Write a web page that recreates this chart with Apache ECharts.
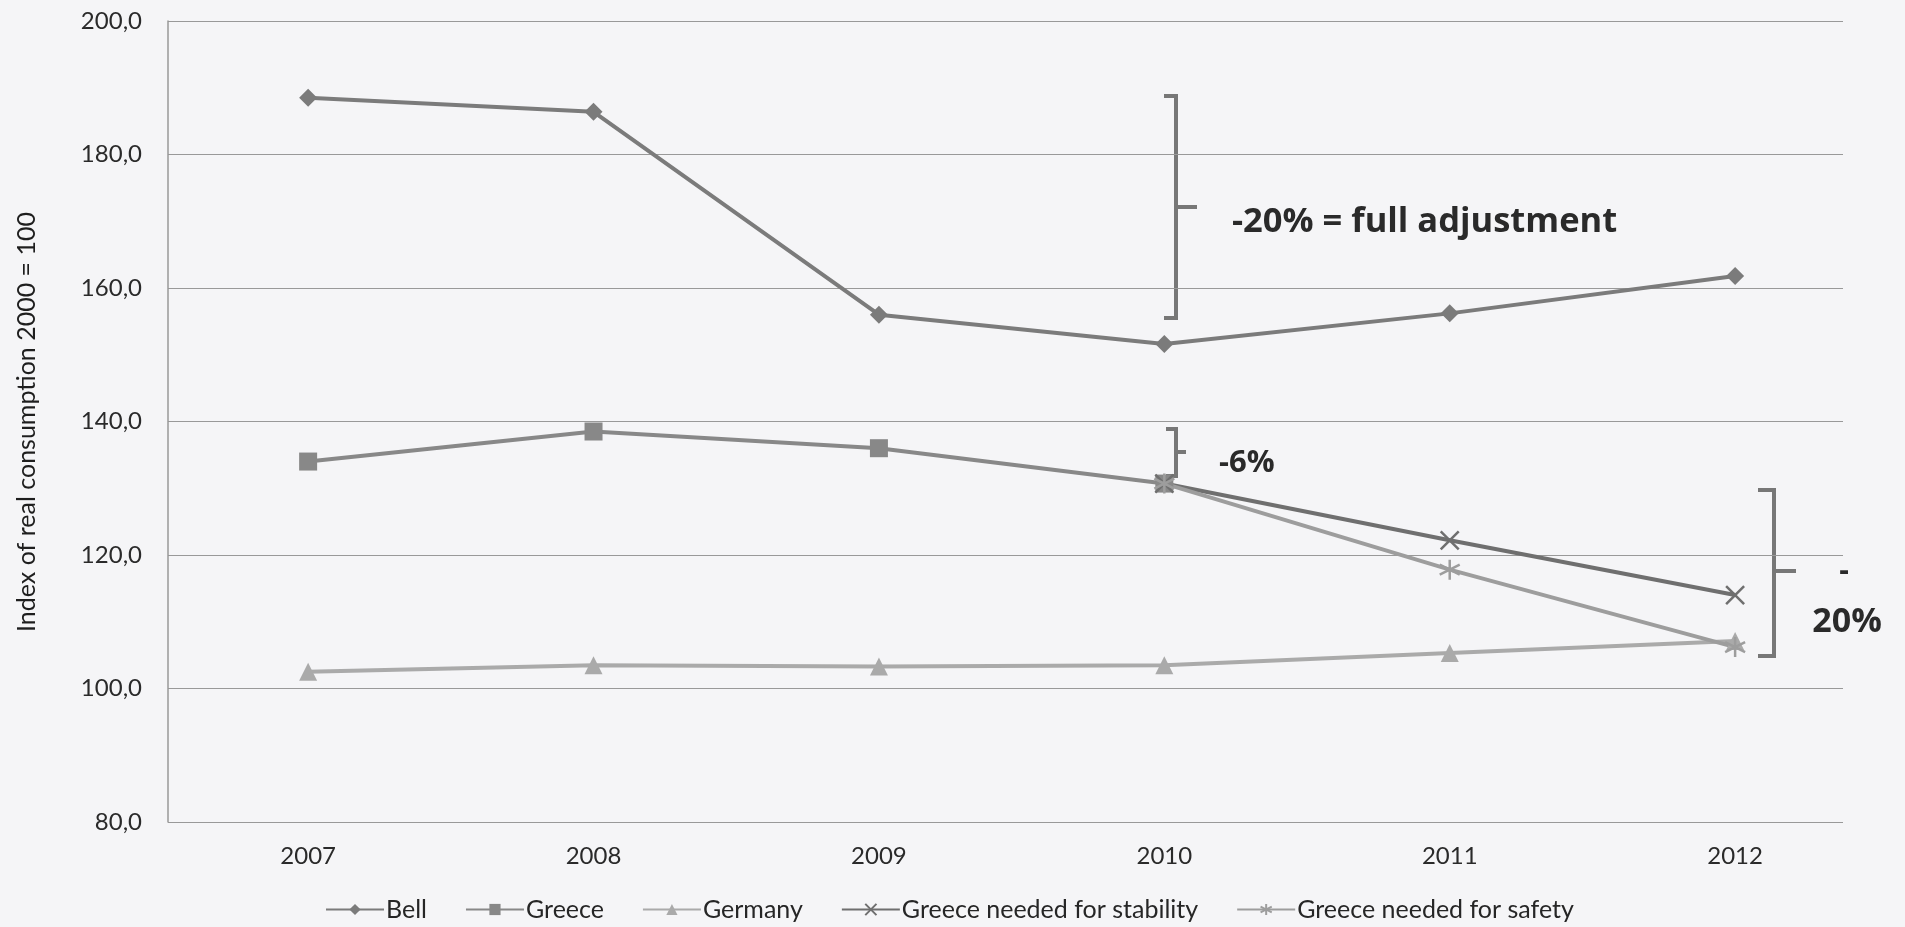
<!DOCTYPE html>
<html><head><meta charset="utf-8">
<script src="https://cdn.jsdelivr.net/npm/echarts@6/dist/echarts.min.js"></script>
<style>html,body{margin:0;padding:0;background:#f5f5f7;}#c{width:1905px;height:927px;}</style>
</head><body><div id="c"></div>
<script>
const years = [2007, 2008, 2009, 2010, 2011, 2012];
const bell = [188.5, 186.4, 156.0, 151.6, 156.2, 161.8];
const greece = [134.0, 138.5, 136.0, 130.7, null, null];
const germany = [102.5, 103.5, 103.3, 103.5, 105.3, 107.1];
const stability = [null, null, null, 130.7, 122.2, 114.0];
const safety = [null, null, null, 130.7, 117.8, 106.2];
const yTicks = [80, 100, 120, 140, 160, 180, 200];

const pairs = arr => years.map((y, i) => [y, arr[i]]);
const chart = echarts.init(document.getElementById('c'), null, {renderer: 'canvas'});
const lbl = {fontFamily: 'Lato', fontSize: 24, color: '#2a2a2a'};
function ser(name, data, color, symbol, size, hollow) {
  return {
    name, type: 'line', data: pairs(data), symbol, symbolSize: size, connectNulls: false,
    lineStyle: {color, width: 4}, showSymbol: true,
    itemStyle: hollow ? {color: 'rgba(0,0,0,0)', borderColor: color, borderWidth: 2.5} : {color},
    emphasis: {disabled: true}
  };
}
const xPath = 'path://M0,0L10,10M10,0L0,10';
const starPath = 'path://M5,0L5,10M0.67,2.5L9.33,7.5M0.67,7.5L9.33,2.5';
const bracket = (x, top, bottom, serif) => ({
  type: 'polyline', shape: {points: [[x - serif, top], [x, top], [x, bottom], [x - serif, bottom]]},
  style: {stroke: '#777', lineWidth: 4, fill: null}
});
const tickLine = (x, mid, len) => ({type: 'line', shape: {x1: x, y1: mid, x2: x + len, y2: mid}, style: {stroke: '#777', lineWidth: 4}});
chart.setOption({
  backgroundColor: '#f5f5f7',
  animation: false,
  grid: {left: 168, right: 62, top: 21, bottom: 105},
  xAxis: {
    type: 'value', min: 2006.509, max: 2012.378,
    axisLine: {show: false}, axisTick: {show: false}, splitLine: {show: false},
    axisLabel: Object.assign({customValues: years, formatter: v => String(v), margin: 22}, lbl)
  },
  yAxis: {
    type: 'value', min: 80, max: 200, interval: 20,
    axisLine: {show: true, lineStyle: {color: '#999', width: 1.5}},
    axisTick: {show: false},
    splitLine: {show: true, lineStyle: {color: '#999', width: 1.2}},
    axisLabel: Object.assign({formatter: v => v.toFixed(1).replace('.', ','), margin: 26}, lbl)
  },
  legend: {
    bottom: 0, left: 320, itemWidth: 58, itemHeight: 14, itemGap: 38,
    textStyle: {fontFamily: 'Lato', fontSize: 25, color: '#262626', padding: [0, 0, 0, -3]},
    data: ['Bell', 'Greece', 'Germany', 'Greece needed for stability', 'Greece needed for safety']
  },
  series: [
    ser('Bell', bell, '#7b7b7b', 'diamond', 18),
    ser('Greece', greece, '#888888', 'rect', 18),
    ser('Germany', germany, '#aaaaaa', 'triangle', 18),
    ser('Greece needed for stability', stability, '#6f6f6f', xPath, 18, true),
    ser('Greece needed for safety', safety, '#9d9d9d', starPath, 20, true)
  ],
  graphic: [
    {type: 'text', x: 27, y: 422, rotation: Math.PI / 2,
     style: {text: 'Index of real consumption 2000 = 100', font: '25px Lato', fill: '#1e1e1e', textAlign: 'center', textVerticalAlign: 'middle'}},
    bracket(1176, 96, 318, 12), tickLine(1176, 207, 21),
    {type: 'text', x: 1232, y: 222, style: {text: '-20% = full adjustment', font: 'bold 34.5px "Open Sans"', fill: '#2a2a2a', textAlign: 'left', textVerticalAlign: 'middle'}},
    bracket(1176, 429, 476, 10), tickLine(1176, 452, 10),
    {type: 'text', x: 1219, y: 463, style: {text: '-6%', font: 'bold 31px "Open Sans"', fill: '#2a2a2a', textAlign: 'left', textVerticalAlign: 'middle'}},
    bracket(1774, 490, 656, 16), tickLine(1774, 571, 22),
    {type: 'text', x: 1844, y: 571, style: {text: '-', font: 'bold 30px "Open Sans"', fill: '#2a2a2a', textAlign: 'center', textVerticalAlign: 'middle'}},
    {type: 'text', x: 1847, y: 622, style: {text: '20%', font: 'bold 34px "Open Sans"', fill: '#2a2a2a', textAlign: 'center', textVerticalAlign: 'middle'}}
  ]
});
</script></body></html>
